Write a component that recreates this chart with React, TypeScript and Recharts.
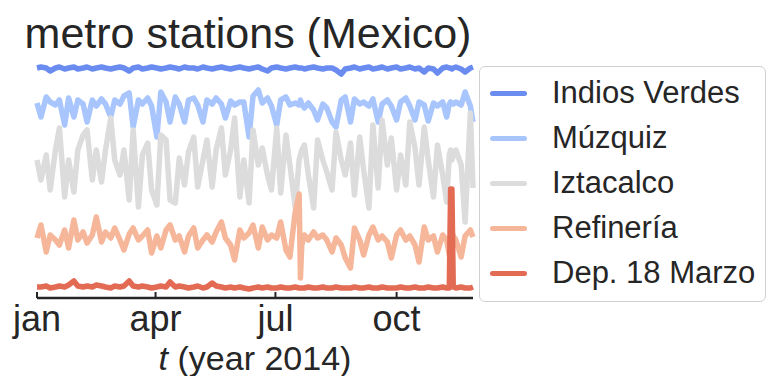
import { Legend, Line, LineChart, XAxis, YAxis } from 'recharts';

const FONT = '"Liberation Sans", Arial, Helvetica, sans-serif';
const INK = '#262626';

// day of year (0 = 1 jan 2014)
const days = [
  0, 3, 7, 10, 14, 17, 21, 24, 28, 31,
  35, 38, 42, 45, 49, 52, 56, 59, 63, 66,
  70, 73, 77, 80, 84, 87, 91, 94, 98, 101,
  105, 108, 112, 115, 119, 122, 126, 129, 133, 136,
  140, 143, 147, 150, 154, 157, 161, 164, 168, 171,
  175, 178, 182, 185, 189, 192, 196, 199, 200, 201,
  203, 206, 210, 213, 217, 220, 224, 227, 231, 234,
  238, 241, 245, 248, 252, 255, 259, 262, 266, 269,
  273, 276, 280, 283, 287, 290, 294, 297, 301, 304,
  308, 311, 313, 314, 315, 316, 318, 322, 325, 329,
  331,
];

const indiosVerdes = [
  115, 115.5, 115, 113.5, 115, 115.5, 114.5, 115, 115.5, 114.5,
  115, 115.5, 114.5, 115, 115.5, 115, 114.5, 115, 115.5, 115,
  113.5, 115, 115.5, 114.5, 115, 115.5, 115, 114.5, 115, 115.5,
  115, 114.5, 115.5, 115, 115, 114.5, 115.5, 115, 114.5, 115,
  115.5, 115, 114.5, 115, 115.5, 115, 114.5, 115, 115.5, 114.5,
  113.5, 115, 115.5, 115, 114.5, 115, 115.5, 115, 115, 115,
  114.5, 115, 115.5, 115, 114.5, 115, 115, 114, 112, 114.5,
  115, 115.5, 114.5, 115, 115.5, 114.5, 115, 115.5, 114.5, 115,
  115.5, 114.5, 115, 115.5, 114.5, 115, 113, 115, 114.5, 112.5,
  115, 115.5, 115, 115, 114.5, 115, 115.5, 114.5, 113, 115,
  115.5,
];

const muzquiz = [
  97.5, 90.5, 100.5, 98, 96.5, 99, 86.5, 100, 90.5, 99,
  97, 88, 99, 96, 99.5, 97, 90.5, 99, 97, 101,
  102.5, 85.5, 99, 97, 100, 96, 80.5, 103, 98, 88,
  100.5, 97, 88, 99, 100, 96.5, 88, 99, 97, 100,
  97, 90, 98.5, 96.5, 98, 98, 80.5, 101, 104, 97.5,
  100, 96, 86.5, 99, 100.5, 96.5, 97.5, 96.5, 99, 97,
  95, 97.5, 94, 89, 97, 95, 88, 85.5, 99, 100.5,
  88, 99.5, 97, 98, 96, 99.5, 88, 97, 99, 96,
  89, 98, 100, 96, 89, 98, 96.5, 88.5, 97.5, 96,
  98, 90.5, 97, 98, 97.5, 97, 98, 96.5, 103, 96,
  88,
];

const iztacalco = [
  69, 59, 71.5, 54, 74, 85, 50.5, 69, 53, 74,
  81.5, 84, 59, 74, 58, 74, 90, 69, 61.5, 74,
  49, 84, 45.5, 71.5, 77.5, 54, 46.5, 81.5, 79, 49,
  47.5, 70, 56.5, 73, 80.5, 55.5, 69, 79, 55.5, 74,
  85, 61.5, 74, 90, 50.5, 69, 47.5, 84, 66.5, 75,
  61.5, 54, 85, 52.5, 81.5, 66.5, 45.5, 69, 71.5, 74,
  76.5, 61.5, 45, 79, 69, 63, 54, 83, 69, 61.5,
  77.5, 51.5, 80.5, 64, 45, 86.5, 55, 89, 66.5, 80,
  54, 71.5, 56.5, 88, 75, 56.5, 85.5, 69, 50.5, 76.5,
  61.5, 48, 71.5, 74, 69, 71.5, 74, 66.5, 38, 92.5,
  55,
];

const refineria = [
  30, 36.5, 23, 31.5, 29, 26.5, 34, 25, 39, 29,
  33, 27.5, 31.5, 40.5, 28, 33, 30, 35, 29, 24,
  32, 35, 29, 31, 34, 22.5, 31, 25, 34, 36.5,
  29, 31, 23, 31, 35, 25, 29, 31.5, 28, 33,
  38, 30, 26.5, 19, 34, 30, 32.5, 36.5, 25, 35.5,
  29, 31.5, 30, 38, 24, 20.5, 43, 52, 10, 26.5,
  31.5, 29, 33, 30, 31.5, 29, 23, 30, 26.5, 20,
  15, 35, 29, 21.5, 31.5, 35.5, 29, 31, 28, 20,
  31.5, 34, 29, 31, 26.5, 18, 35.5, 29, 31, 23,
  31.5, 29, 21.5, 30, 33, 31, 29, 20.5, 31, 34,
  30.5,
];

const depMarzo = [
  5.5, 5.5, 6, 5, 5.5, 6, 5.5, 6.5, 8.5, 6,
  5.5, 6, 5.5, 6.5, 6, 5.5, 5, 6, 5.5, 6,
  8.5, 6, 5.5, 6, 5.5, 5, 5.5, 6, 5.5, 8,
  5.5, 6, 5.5, 5, 5.5, 6, 5, 5.5, 7.5, 6,
  5.5, 5, 5.5, 5, 5.5, 5, 4.5, 5, 5.5, 5,
  5.5, 5, 5, 5.5, 5, 5, 5.5, 5, 5, 5,
  5, 5.5, 5, 5, 5.5, 5, 5, 5.5, 5, 5,
  5, 5.5, 5, 5, 5.5, 5, 5, 5.5, 5, 5,
  5, 5.5, 5, 5, 5.5, 5, 5, 5.5, 5, 5,
  5.5, 5, 5, 54.5, 54.5, 5.5, 5, 5.5, 5, 5,
  5.5,
];

const seriesKeys = ['iv', 'mz', 'iz', 'rf', 'dm'];
const seriesNames = ['Indios Verdes', 'Múzquiz', 'Iztacalco', 'Refinería', 'Dep. 18 Marzo'];
const seriesColors = ['#6a8cf0', '#a8c6fd', '#dddcdc', '#f6b69a', '#e36b54'];
const seriesValues = [indiosVerdes, muzquiz, iztacalco, refineria, depMarzo];

const tickDays = [0, 90, 181, 273];
const tickLabels = ['jan', 'apr', 'jul', 'oct'];

const data = days.map((day, i) => {
  const row: Record<string, number> = { day };
  seriesKeys.forEach((k, s) => {
    row[k] = seriesValues[s][i];
  });
  return row;
});

function MonthTick(props: any) {
  const { x, y, payload } = props;
  return (
    <g>
      <line x1={x} x2={x} y1={y} y2={y - 6} stroke={INK} strokeWidth={2} />
      <text x={x} y={y + 33} textAnchor="middle" fontSize={36} fill={INK} fontFamily={FONT}>
        {tickLabels[tickDays.indexOf(payload.value)]}
      </text>
    </g>
  );
}

function TimeLabel(props: any) {
  const { viewBox } = props;
  const cx = viewBox.x + viewBox.width / 2;
  return (
    <text x={cx} y={viewBox.y + 72} textAnchor="middle" fontSize={34} fill={INK} fontFamily={FONT}>
      <tspan fontStyle="italic">t</tspan> (year 2014)
    </text>
  );
}

// legend keeps the plotting order of the series
function LegendBox() {
  return (
    <div
      style={{
        width: 287,
        height: 236,
        boxSizing: 'border-box',
        border: '1.5px solid #d0d0d0',
        borderRadius: 6,
        background: '#fff',
        position: 'relative',
        fontFamily: FONT,
      }}
    >
      {seriesNames.map((name, i) => (
        <div
          key={name}
          style={{ position: 'absolute', left: 0, top: 8 + i * 45, height: 36, display: 'flex', alignItems: 'center' }}
        >
          <span style={{ display: 'inline-block', marginLeft: 10, width: 37, height: 5, borderRadius: 2.5, background: seriesColors[i] }} />
          <span style={{ marginLeft: 25, fontSize: 31, color: INK, lineHeight: '36px', whiteSpace: 'nowrap' }}>{name}</span>
        </div>
      ))}
    </div>
  );
}

export default function App() {
  return (
    <div style={{ position: 'absolute', left: 0, top: 0, width: 768, height: 376, background: '#fff' }}>
      <LineChart width={768} height={376} data={data} margin={{ top: 56, right: 295, bottom: 0, left: 37 }}>
        <XAxis
          dataKey="day"
          type="number"
          domain={[0, 331]}
          ticks={tickDays}
          interval={0}
          tick={<MonthTick />}
          tickLine={false}
          tickSize={0}
          tickMargin={0}
          height={78}
          axisLine={{ stroke: INK, strokeWidth: 2.5 }}
          label={<TimeLabel />}
        />
        <YAxis
          domain={[0, 121]}
          width={0}
          tick={false}
          tickLine={false}
          axisLine={{ stroke: INK, strokeWidth: 2.5 }}
        />
        {seriesKeys.map((k, s) => (
          <Line
            key={k}
            dataKey={k}
            name={seriesNames[s]}
            type="linear"
            stroke={seriesColors[s]}
            strokeWidth={5.5}
            strokeLinejoin="round"
            dot={false}
            isAnimationActive={false}
          />
        ))}
        <Legend
          layout="horizontal"
          align="center"
          verticalAlign="middle"
          content={<LegendBox />}
          wrapperStyle={{ left: 479, top: 66, width: 287, height: 236 }}
        />
      </LineChart>
      <svg width={768} height={60} style={{ position: 'absolute', left: 0, top: 0 }}>
        <text x={248} y={48} textAnchor="middle" fontSize={43} fill={INK} fontFamily={FONT}>
          metro stations (Mexico)
        </text>
      </svg>
    </div>
  );
}
